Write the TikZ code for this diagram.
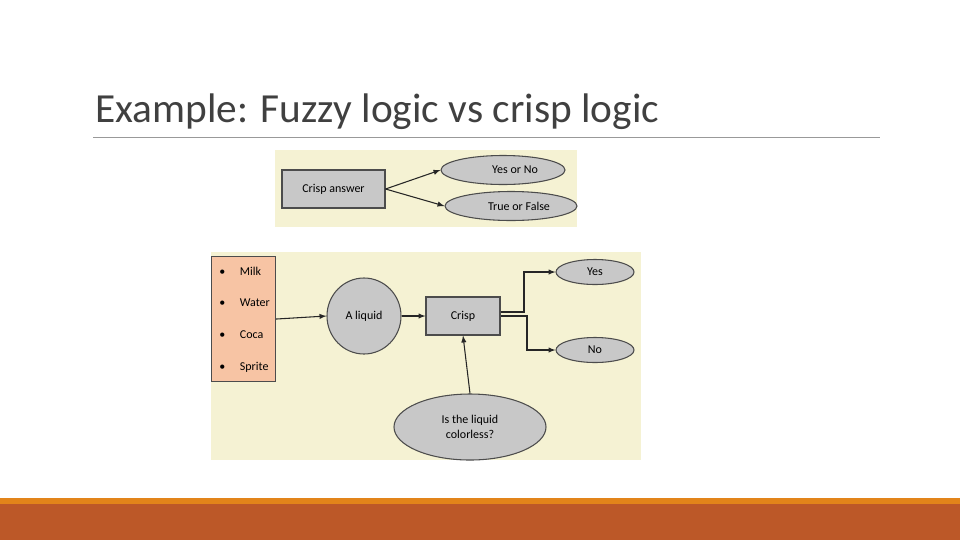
\documentclass[tikz,border=0pt]{standalone}
\usepackage{fontspec}
\setmainfont{Carlito}
\usetikzlibrary{shapes.geometric, arrows, positioning}
\definecolor{panel}{HTML}{F5F2D3}
\definecolor{boxgray}{HTML}{C8C8C8}
\definecolor{listfill}{HTML}{F7C4A4}
\definecolor{barlight}{HTML}{E2841A}
\definecolor{bardark}{HTML}{BC5828}
\definecolor{titlegray}{HTML}{404040}
\tikzset{
    answerbox/.style={draw=black!70, fill=boxgray, thick, minimum width=#1, minimum height=0.75*38pt, inner sep=0pt, font=\fontsize{9}{11}\selectfont},
    answerbox/.default={0.75*103pt},
    oval/.style={ellipse, draw=black!70, fill=boxgray, thick, inner sep=0pt, font=\fontsize{9}{11}\selectfont},
    link/.style={->, >=latex, thick, black!85},
}
\begin{document}
\begin{tikzpicture}[x=0.75pt, y=-0.75pt]
    \useasboundingbox (0,0) rectangle (960,540);
    \fill[white] (0,0) rectangle (960,540);

    % title and rule
    \node[anchor=base west, inner sep=0pt, text=titlegray, font=\fontsize{31}{36}\selectfont] (title) at (95,122) {Example: Fuzzy logic vs crisp logic};
    \draw[black!40] (93,137) -- (880,137);

    % bottom bars
    \fill[barlight] (0,498) rectangle (960,504);
    \fill[bardark] (0,504) rectangle (960,540);

    % upper panel
    \fill[panel] (275,150) rectangle (577,227);
    \node[answerbox] (ans) at (333.5,189) {Crisp answer};
    \node[oval, minimum width=0.75*124pt, minimum height=0.75*29pt] (yesno) at (503,170) {\hspace{18pt}Yes or No};
    \node[oval, minimum width=0.75*132pt, minimum height=0.75*29pt] (truefalse) at (511,206) {\hspace{12pt}True or False};
    \draw[link] (ans.east) -- (yesno.west);
    \draw[link] (ans.east) -- (truefalse.west);

    % lower panel
    \fill[panel] (211,252) rectangle (641,460);
    \node[draw=black!70, thick, fill=listfill, minimum width=0.75*64pt, minimum height=0.75*125pt, anchor=north west] (list) at (211,256) {};
    \foreach \y/\item in {271/Milk, 303/Water, 335/Coca, 367/Sprite}
        \node[anchor=west, inner sep=0pt, font=\fontsize{9}{11}\selectfont] at (219,\y) {\textbullet\hspace{11pt}\item};

    \node[oval, minimum width=0.75*74pt, minimum height=0.75*76pt] (liquid) at (364,316) {A liquid};
    \node[answerbox=0.75*74pt] (crisp) at (463,316) {Crisp};
    \node[oval, minimum width=0.75*78pt, minimum height=0.75*25pt] (yes) at (595,272) {Yes};
    \node[oval, minimum width=0.75*78pt, minimum height=0.75*25pt] (no) at (595,350) {No};
    \node[oval, minimum width=0.75*152pt, minimum height=0.75*66pt, align=center] (question) at (470,427) {Is the liquid\\colorless?};

    \coordinate (ybend) at (524,312);
    \coordinate (nbend) at (527,316);
    \draw[link] (list.east) -- (liquid.west);
    \draw[link] (liquid.east) -- (crisp.west);
    \draw[link] (crisp.east |- ybend) -- (ybend) |- (yes.west);
    \draw[link] (crisp.east |- nbend) -- (nbend) |- (no.west);
    \draw[link] (question.north) -- (crisp.south);
\end{tikzpicture}
\end{document}
